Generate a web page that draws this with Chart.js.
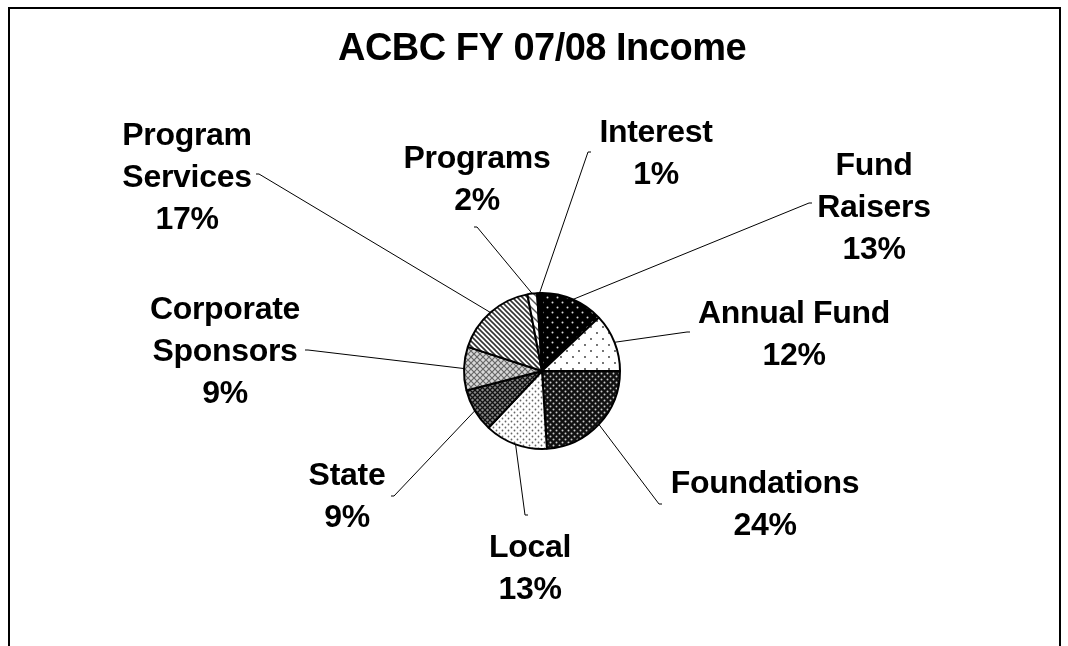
<!DOCTYPE html>
<html>
<head>
<meta charset="utf-8">
<script src="https://cdn.jsdelivr.net/npm/chart.js@4/dist/chart.umd.min.js"></script>
<style>
  html, body { margin: 0; padding: 0; background: #fff; }
  #wrap { position: relative; width: 1068px; height: 646px; overflow: hidden; }
  #frame { position: absolute; left: 8px; top: 7px; width: 1049px; height: 700px; border: 2px solid #000; }
  canvas { position: absolute; left: 0; top: 0; }
</style>
</head>
<body>
<div id="wrap">
  <div id="frame"></div>
  <canvas id="chart" width="1068" height="646"></canvas>
</div>
<script>
const chartTitle = 'ACBC FY 07/08 Income';
// slices, clockwise from 12 o'clock
const categories = ['Fund Raisers', 'Annual Fund', 'Foundations', 'Local', 'State',
  'Corporate Sponsors', 'Program Services', 'Programs', 'Interest'];
const shares = [13, 12, 24, 13, 9, 9, 17, 2, 1];

// where each callout sits: text centre, first baseline, end of leader line
const labelLayout = [
  { lines: ['Fund', 'Raisers'], x: 874, y: 175, ax: 812, ay: 203 },
  { lines: ['Annual Fund'], x: 794, y: 323, ax: 690, ay: 332 },
  { lines: ['Foundations'], x: 765, y: 493, ax: 662, ay: 504 },
  { lines: ['Local'], x: 530, y: 557, ax: 528, ay: 515 },
  { lines: ['State'], x: 347, y: 485, ax: 391, ay: 496 },
  { lines: ['Corporate', 'Sponsors'], x: 225, y: 319, ax: 305, ay: 350 },
  { lines: ['Program', 'Services'], x: 187, y: 145, ax: 256, ay: 174 },
  { lines: ['Programs'], x: 477, y: 168, ax: 474, ay: 227 },
  { lines: ['Interest'], x: 656, y: 142, ax: 591, ay: 152 },
];

const FONT = '"Liberation Sans", Arial, sans-serif';

function tile(size, bg, draw) {
  const c = document.createElement('canvas');
  c.width = c.height = size;
  const g = c.getContext('2d');
  g.fillStyle = bg;
  g.fillRect(0, 0, size, size);
  draw(g, size);
  return g.createPattern(c, 'repeat');
}
function dots(color, r, pts) {
  return (g) => {
    g.fillStyle = color;
    pts.forEach(([x, y]) => { g.beginPath(); g.arc(x, y, r, 0, Math.PI * 2); g.fill(); });
  };
}
function diag(color, w) {
  return (g, s) => {
    g.strokeStyle = color; g.lineWidth = w;
    g.beginPath();
    g.moveTo(-1, -1); g.lineTo(s + 1, s + 1);
    g.moveTo(-1, s - 1); g.lineTo(1, s + 1);
    g.moveTo(s - 1, -1); g.lineTo(s + 1, 1);
    g.stroke();
  };
}
function hatch(color, w) {
  return (g, s) => {
    g.strokeStyle = color; g.lineWidth = w;
    g.beginPath();
    g.moveTo(0, 0); g.lineTo(s, s);
    g.moveTo(s, 0); g.lineTo(0, s);
    g.stroke();
  };
}

const fills = [
  tile(10, '#000', dots('#ddd', 1, [[2.5, 2.5], [7.5, 7.5]])),
  tile(12, '#fff', dots('#333', 0.9, [[3, 3], [9, 9]])),
  tile(6, '#111', dots('#ccc', 1, [[1.5, 1.5], [4.5, 4.5]])),
  tile(6, '#fff', dots('#666', 0.9, [[1.5, 1.5], [4.5, 4.5]])),
  tile(5, '#8a8a8a', hatch('#111', 1.3)),
  tile(6, '#d8d8d8', hatch('#666', 1.2)),
  tile(5, '#fff', diag('#333', 1.6)),
  tile(8, '#fff', diag('#555', 1.4)),
  '#000',
];

const calloutPlugin = {
  id: 'callouts',
  afterDatasetsDraw(chart) {
    const ctx = chart.ctx;
    const meta = chart.getDatasetMeta(0);
    const total = shares.reduce((a, b) => a + b, 0);
    ctx.save();
    ctx.fillStyle = '#000';
    ctx.textAlign = 'center';
    ctx.textBaseline = 'alphabetic';
    // title, centred over the pie (tight spacing like the original)
    ctx.font = 'bold 38px ' + FONT;
    ctx.letterSpacing = '-0.5px';
    ctx.fillText(chartTitle, meta.data[0].x, 60);

    ctx.font = 'bold 32px ' + FONT;
    ctx.letterSpacing = '-0.3px';
    meta.data.forEach((arc, i) => {
      const p = arc.getProps(['x', 'y', 'startAngle', 'endAngle', 'outerRadius'], true);
      const mid = (p.startAngle + p.endAngle) / 2;
      const ex = p.x + Math.cos(mid) * p.outerRadius;
      const ey = p.y + Math.sin(mid) * p.outerRadius;
      const L = labelLayout[i];
      const tick = L.ax < ex ? 3 : -3;
      ctx.strokeStyle = '#000';
      ctx.lineWidth = 1;
      ctx.beginPath();
      ctx.moveTo(L.ax, L.ay);
      ctx.lineTo(L.ax + tick, L.ay);
      ctx.lineTo(ex, ey);
      ctx.stroke();

      const pct = Math.round(shares[i] / total * 100) + '%';
      L.lines.concat([pct]).forEach((t, k) => ctx.fillText(t, L.x, L.y + k * 42));
    });
    ctx.restore();
  }
};

new Chart(document.getElementById('chart'), {
  type: 'pie',
  data: {
    labels: categories,
    datasets: [{
      data: shares,
      backgroundColor: fills,
      borderColor: '#000',
      borderWidth: 2,
    }]
  },
  options: {
    responsive: false,
    animation: false,
    layout: { padding: { left: 463, right: 447, top: 292, bottom: 196 } },
    plugins: {
      legend: { display: false },
      tooltip: { enabled: false },
      title: { display: false },
    },
  },
  plugins: [calloutPlugin],
});
</script>
</body>
</html>
